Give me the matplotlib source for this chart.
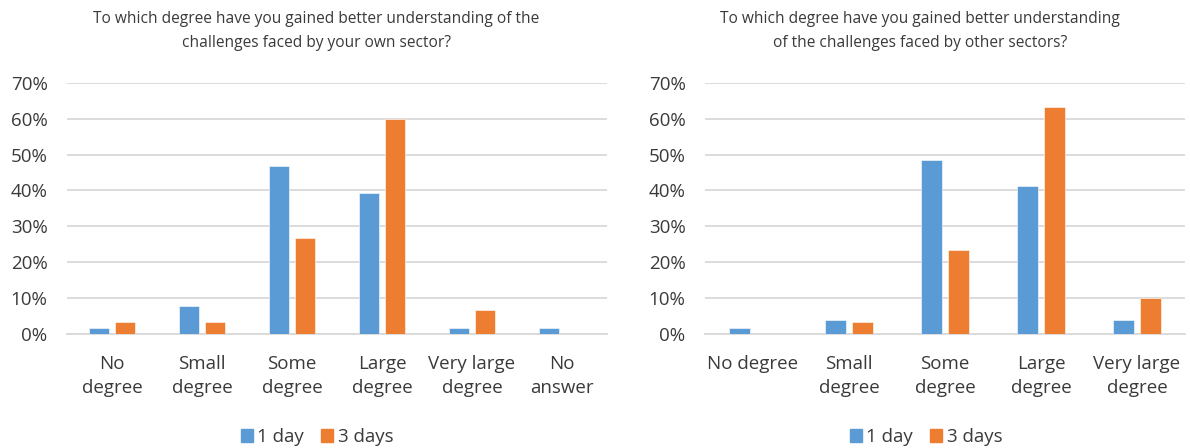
import matplotlib
matplotlib.use("Agg")
import matplotlib.pyplot as plt
import matplotlib.patches as mpatches
from matplotlib.ticker import PercentFormatter
import numpy as np

# survey answers, share of respondents in %
own_categories = ["No\ndegree", "Small\ndegree", "Some\ndegree", "Large\ndegree",
                  "Very large\ndegree", "No\nanswer"]
own_1day = [1.7, 7.8, 46.8, 39.3, 1.7, 1.7]
own_3days = [3.3, 3.3, 26.7, 60.0, 6.7, 0.0]

other_categories = ["No degree", "Small\ndegree", "Some\ndegree", "Large\ndegree",
                    "Very large\ndegree"]
other_1day = [1.8, 3.8, 48.6, 41.2, 3.8]
other_3days = [0.0, 3.3, 23.3, 63.3, 10.0]

own_title = ("To which degree have you gained better understanding of the\n"
             "challenges faced by your own sector?")
other_title = ("To which degree have you gained better understanding\n"
               "of the challenges faced by other sectors?")

BLUE = "#5B9BD5"
ORANGE = "#ED7D31"
GRID = "#D9D9D9"
TXT = "#3A3A3A"

plt.rcParams["font.family"] = ["Open Sans", "DejaVu Sans"]

W, H = 1190, 448
fig = plt.figure(figsize=(W / 100, H / 100), dpi=100)


def px_axes(x0, x1, ytop, ybot):
    return fig.add_axes([x0 / W, (H - ybot) / H, (x1 - x0) / W, (ybot - ytop) / H])


def draw_panel(ax, cats, s1, s2, title, title_x, legend_x):
    x = np.arange(len(cats))
    w = 0.22
    off = 0.142
    ax.bar(x - off, s1, w, color=BLUE, edgecolor="white", linewidth=0.4, zorder=3)
    ax.bar(x + off, s2, w, color=ORANGE, edgecolor="white", linewidth=0.4, zorder=3)

    ax.set_xlim(-0.5, len(cats) - 0.5)
    ax.set_ylim(0, 70)
    ax.set_yticks(range(0, 71, 10))
    ax.yaxis.set_major_formatter(PercentFormatter(decimals=0))
    ax.grid(axis="y", color=GRID, linewidth=1.3, zorder=0)
    for side in ["top", "right", "left"]:
        ax.spines[side].set_visible(False)
    ax.spines["bottom"].set_color(GRID)
    ax.spines["bottom"].set_linewidth(1.3)
    ax.tick_params(axis="both", length=0, labelsize=13.5, labelcolor=TXT)
    ax.tick_params(axis="y", pad=14)
    ax.tick_params(axis="x", pad=15)
    ax.set_xticks(x)
    ax.set_xticklabels(cats)
    for lbl in ax.get_xticklabels():
        lbl.set_linespacing(1.42)

    fig.text(title_x / W, 1 - 31 / H, title, ha="center", va="center",
             fontsize=11.2, color=TXT, linespacing=1.65)

    h1 = mpatches.Patch(color=BLUE, label="1 day")
    h2 = mpatches.Patch(color=ORANGE, label="3 days")
    fig.legend(handles=[h1, h2], loc="center", ncol=2,
               bbox_to_anchor=(legend_x / W, 1 - 437 / H), frameon=False,
               fontsize=13.5, handlelength=0.64, handleheight=0.64,
               handletextpad=0.25, columnspacing=0.9, labelcolor=TXT,
               borderpad=0, borderaxespad=0)


ax1 = px_axes(67, 607, 82.7, 334)
draw_panel(ax1, own_categories, own_1day, own_3days, own_title, 316, 317)

ax2 = px_axes(705, 1185, 82.7, 334)
draw_panel(ax2, other_categories, other_1day, other_3days, other_title, 920, 926)

fig.savefig("out.png", dpi=100)
